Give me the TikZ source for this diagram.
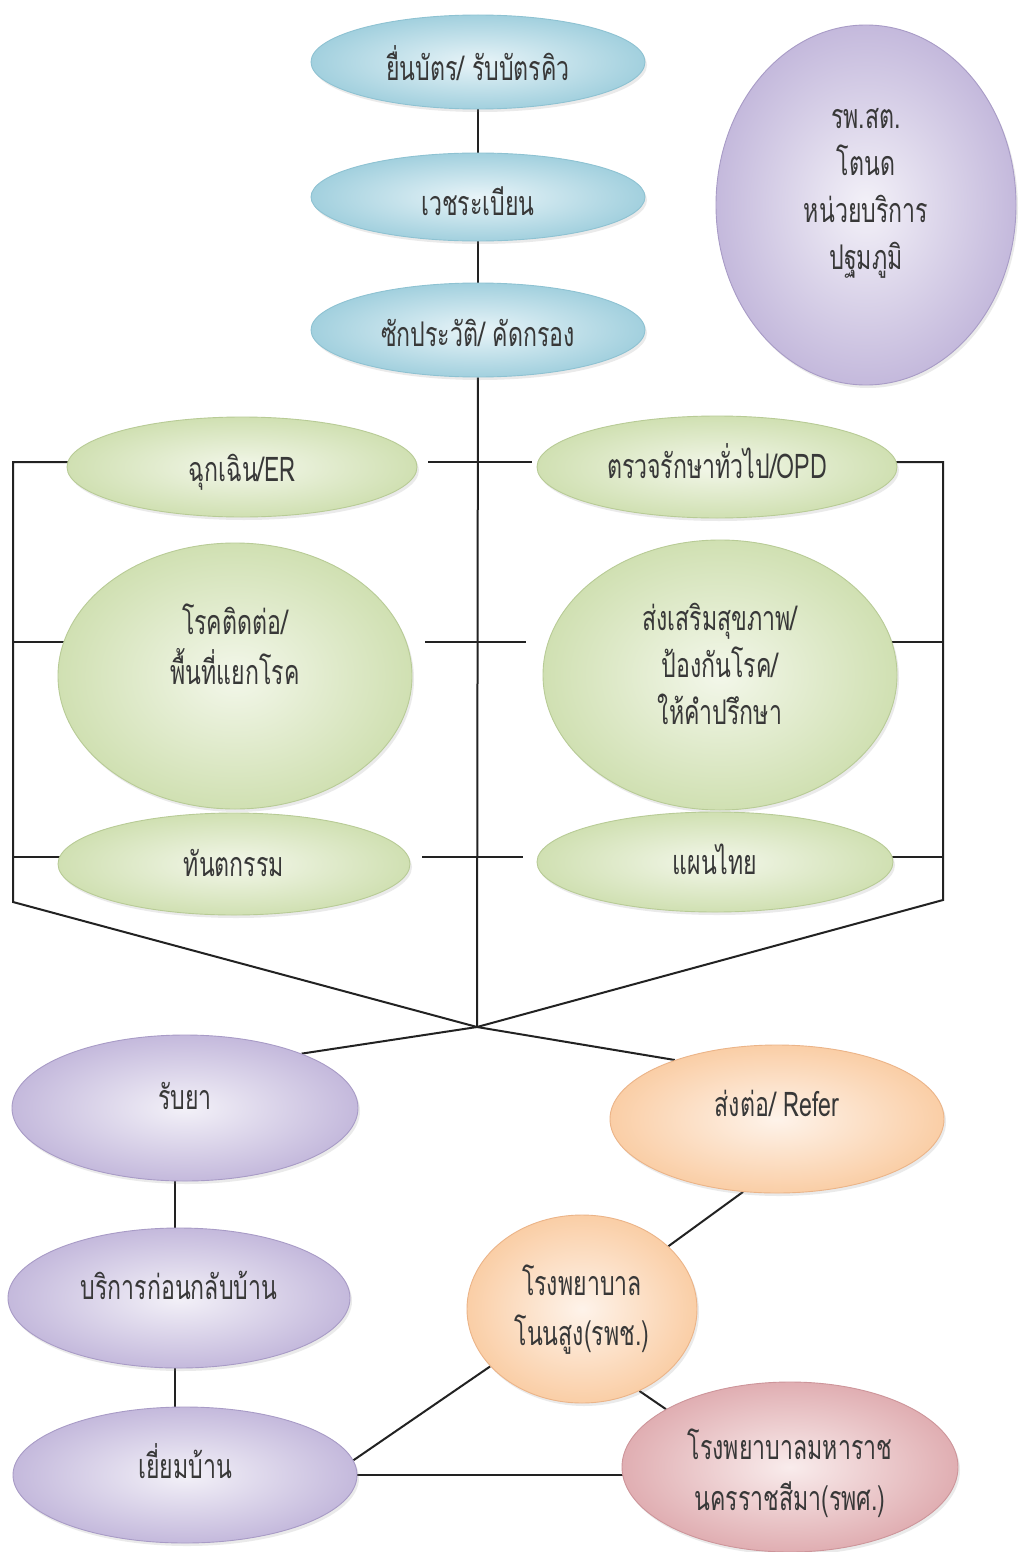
\documentclass[tikz,border=0pt]{standalone}
\usepackage{fontspec}
\newfontfamily\thai[Script=Thai,FakeStretch=0.68]{Loma}
\usetikzlibrary{shapes.geometric,shadows,backgrounds,calc}
\definecolor{bluein}{HTML}{E8F4F8}
\definecolor{blueout}{HTML}{A2D0DE}
\definecolor{blueline}{HTML}{8EC2D2}
\definecolor{greenin}{HTML}{F3F7EA}
\definecolor{greenout}{HTML}{D0E0B2}
\definecolor{greenline}{HTML}{B8CB96}
\definecolor{purpin}{HTML}{F3F1F8}
\definecolor{purpout}{HTML}{C4B9DC}
\definecolor{purpline}{HTML}{A89BC6}
\definecolor{orin}{HTML}{FEF3EA}
\definecolor{orout}{HTML}{FACEA6}
\definecolor{orline}{HTML}{EBB488}
\definecolor{pkin}{HTML}{F9ECEC}
\definecolor{pkout}{HTML}{E0AEB2}
\definecolor{pkline}{HTML}{CD959A}
\definecolor{txtc}{HTML}{383838}
\definecolor{linec}{HTML}{222222}
\newcommand\tx[2]{\raisebox{#1}[\height][\depth]{\begin{tabular}{@{}c@{}}#2\end{tabular}}}
\tikzset{
  ell/.style={ellipse, inner sep=0pt, line width=0.9pt,
    font=\thai\fontsize{34}{47}\selectfont, text=txtc,
    drop shadow={opacity=0.16, shadow xshift=2pt, shadow yshift=-3pt}},
  sz/.style 2 args={minimum width=#1pt, minimum height=#2pt},
  blueE/.style={ell, draw=blueline, inner color=bluein, outer color=blueout},
  greenE/.style={ell, draw=greenline, inner color=greenin, outer color=greenout},
  purpE/.style={ell, draw=purpline, inner color=purpin, outer color=purpout},
  orE/.style={ell, draw=orline, inner color=orin, outer color=orout},
  pkE/.style={ell, draw=pkline, inner color=pkin, outer color=pkout},
  conn/.style={draw=linec, line width=2pt, line join=miter},
}
\begin{document}
\begin{tikzpicture}[x=1pt,y=-1pt]
\useasboundingbox (0,0) rectangle (1022,1552);
\begin{pgfonlayer}{background}
\fill[white] (0,0) rectangle (1022,1552);
\end{pgfonlayer}

% blue column
\node[blueE, sz={334}{94}] (B1) at (478,62) {\tx{-8pt}{ยื่นบัตร/ รับบัตรคิว}};
\node[blueE, sz={334}{88}] (B2) at (478,197) {\tx{-9pt}{เวชระเบียน}};
\node[blueE, sz={334}{94}] (B3) at (478,330) {\tx{-7pt}{ซักประวัติ/ คัดกรอง}};
% primary care unit
\node[purpE, sz={300}{360}] (PB) at (866,205) {\tx{15pt}{รพ.สต.\\โตนด\\หน่วยบริการ\\ปฐมภูมิ}};
% green services
\node[greenE, sz={350}{100}] (G1) at (242,467) {\tx{-5pt}{ฉุกเฉิน/ER}};
\node[greenE, sz={360}{102}] (G2) at (717,467) {\tx{-1pt}{ตรวจรักษาทั่วไป/OPD}};
\node[greenE, sz={354}{266}] (G3) at (235,676) {\tx{26pt}{โรคติดต่อ/\\พื้นที่แยกโรค}};
\node[greenE, sz={354}{270}] (G4) at (720,675) {\tx{7pt}{ส่งเสริมสุขภาพ/\\ป้องกันโรค/\\ให้คำปรึกษา}};
\node[greenE, sz={352}{102}] (G5) at (234,864) {\tx{-3pt}{ทันตกรรม}};
\node[greenE, sz={356}{100}] (G6) at (715,862) {\tx{-3pt}{แผนไทย}};
% bottom left
\node[purpE, sz={346}{146}] (P1) at (185,1108) {\tx{8pt}{รับยา}};
\node[purpE, sz={342}{140}] (P2) at (179,1298) {\tx{8pt}{บริการก่อนกลับบ้าน}};
\node[purpE, sz={344}{136}] (P3) at (185,1475) {\tx{7pt}{เยี่ยมบ้าน}};
% referral
\node[orE, sz={334}{148}] (O1) at (777,1119) {\tx{12pt}{ส่งต่อ/ Refer}};
\node[orE, sz={230}{188}] (O2) at (582,1309) {\tx{-2pt}{โรงพยาบาล\\[3pt]โนนสูง(รพช.)}};
\node[pkE, sz={336}{170}] (R1) at (790,1467) {\tx{-9pt}{โรงพยาบาลมหาราช\\[4pt]นครราชสีมา(รพศ.)}};

% junction coordinates
\coordinate (X) at (477,1027);
\coordinate (LT) at (13,462);
\coordinate (LM) at (13,642);
\coordinate (LL) at (13,857);
\coordinate (LB) at (13,902);
\coordinate (RT) at (943,462);
\coordinate (RM) at (943,642);
\coordinate (RL) at (943,857);
\coordinate (RB) at (943,900);

\begin{pgfonlayer}{background}
\draw[conn] (B1) -- (B2);
\draw[conn] (B2) -- (B3);
\draw[conn] (B3) -- (X);
% left bracket and crossing connector
\draw[conn] (G1 |- LT) -- (LT) -- (LB) -- (X) -- (O1.150);
\draw[conn] (LM) -- (G3 |- LM);
\draw[conn] (LL) -- (G5 |- LL);
% right bracket and crossing connector
\draw[conn] (G2 |- RT) -- (RT) -- (RB) -- (X) -- (P1.25);
\draw[conn] (RM) -- (G4 |- RM);
\draw[conn] (RL) -- (G6 |- RL);
% stubs across the centre line
\draw[conn] ($(G1.east |- LT)+(11,0)$) -- ($(G2.west |- RT)+(-5,0)$);
\draw[conn] ($(G3.east |- LM)+(13,0)$) -- ($(G4.west |- RM)+(-17,0)$);
\draw[conn] ($(G5.east |- LL)+(12,0)$) -- ($(G6.west |- RL)+(-14,0)$);
% bottom chain
\draw[conn] ($(P1.south)+(-10,-5)$) -- ($(P2.north)+(-4,5)$);
\draw[conn] ($(P2.south)+(-4,-5)$) -- ($(P3.north)+(-10,5)$);
\draw[conn] (O1.245) -- (O2.36);
\draw[conn] (O2.212) -- (P3.5);
\draw[conn] (O2.305) -- (R1.155);
\draw[conn] (P3) -- (P3 -| R1);
\end{pgfonlayer}
\end{tikzpicture}
\end{document}
